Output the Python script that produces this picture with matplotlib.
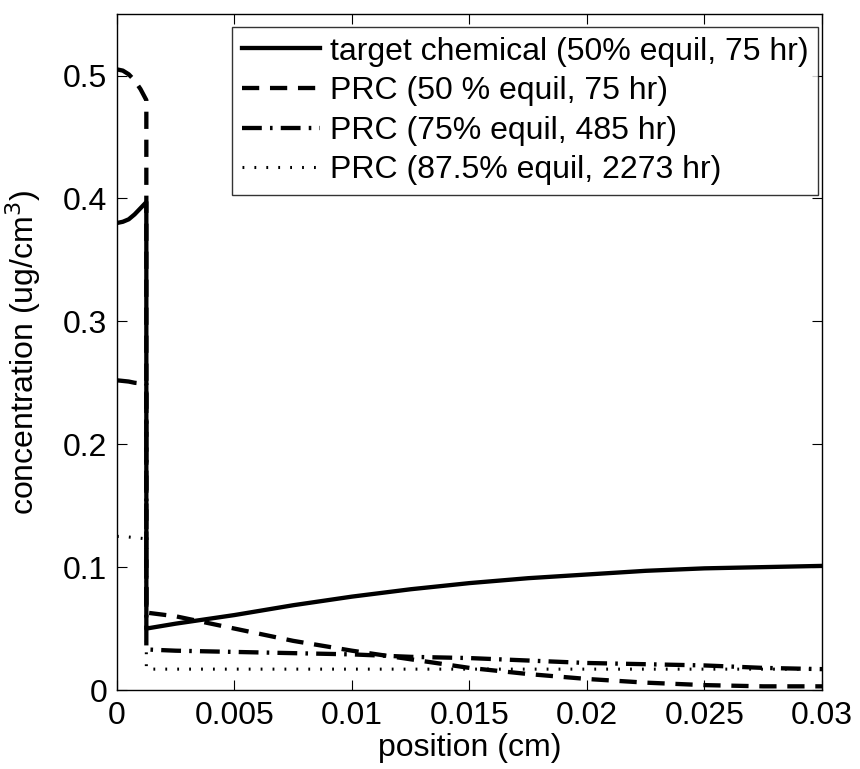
"""
    Concentration profiles across membrane / water boundary
"""

import numpy as np
import matplotlib
matplotlib.use('Agg')
import matplotlib.pyplot as plt

plt.rcParams['font.family'] = ['Liberation Sans', 'DejaVu Sans']

# positions (cm): inside the polymer layer, then out in the water film
pos_inner = [0, 0.00025, 0.0005, 0.00075, 0.001, 0.00125]
pos_outer = [0.00125, 0.0025, 0.005, 0.0075, 0.01, 0.0125, 0.015,
             0.0175, 0.02, 0.0225, 0.025, 0.0275, 0.03]

# concentrations (ug/cm3)
target_inner = [0.380, 0.381, 0.383, 0.387, 0.392, 0.397]
target_outer = [0.050, 0.054, 0.061, 0.069, 0.076, 0.082, 0.087,
                0.091, 0.094, 0.097, 0.099, 0.100, 0.101]

prc50_inner = [0.505, 0.504, 0.501, 0.496, 0.489, 0.480]
prc50_outer = [0.063, 0.060, 0.050, 0.040, 0.032, 0.025, 0.018,
               0.013, 0.009, 0.006, 0.004, 0.003, 0.003]

prc75_inner = [0.252, 0.2515, 0.251, 0.250, 0.2495, 0.249]
prc75_outer = [0.033, 0.032, 0.031, 0.030, 0.029, 0.027, 0.026,
               0.024, 0.022, 0.021, 0.020, 0.018, 0.017]

prc875_inner = [0.125, 0.125, 0.1245, 0.124, 0.1235, 0.123]
prc875_outer = [0.017, 0.017, 0.017, 0.017, 0.017, 0.017, 0.017,
                0.017, 0.017, 0.017, 0.017, 0.017, 0.017]

labels = ['target chemical (50% equil, 75 hr)',
          'PRC (50 % equil, 75 hr)',
          'PRC (75% equil, 485 hr)',
          'PRC (87.5% equil, 2273 hr)']

x = np.concatenate([pos_inner, pos_outer])

fig = plt.figure(figsize=(8.6, 7.69), dpi=100)
ax = fig.add_axes([0.136, 0.1027, 0.8198, 0.879])

lw = 3.1
ax.plot(x, np.concatenate([target_inner, target_outer]), color='black',
        lw=lw, linestyle='-', label=labels[0])
ax.plot(x, np.concatenate([prc50_inner, prc50_outer]), color='black',
        lw=lw, linestyle=(0, (4.0, 2.5)), label=labels[1])
ax.plot(x, np.concatenate([prc75_inner, prc75_outer]), color='black',
        lw=lw, linestyle=(0, (4.6, 1.9, 0.6, 1.9)), label=labels[2])
ax.plot(x, np.concatenate([prc875_inner, prc875_outer]), color='black',
        lw=2.2, linestyle=(0, (0.6, 3.3)), label=labels[3])

ax.set_xlim(0, 0.03)
ax.set_ylim(0, 0.55)
ax.set_xticks([0, 0.005, 0.01, 0.015, 0.02, 0.025, 0.03])
ax.set_xticklabels(['0', '0.005', '0.01', '0.015', '0.02', '0.025', '0.03'])
ax.set_yticks([0, 0.1, 0.2, 0.3, 0.4, 0.5])
ax.set_yticklabels(['0', '0.1', '0.2', '0.3', '0.4', '0.5'])
ax.tick_params(direction='in', top=True, right=True, length=7,
               labelsize=23, width=0.8)
ax.tick_params(axis='x', pad=8)
ax.tick_params(axis='y', pad=7)
for s in ax.spines.values():
    s.set_linewidth(1.0)

ax.set_xlabel('position (cm)', fontsize=23, labelpad=1)
ax.set_ylabel('concentration (ug/cm$^3$)', fontsize=23, labelpad=14)

leg = ax.legend(loc='upper right', bbox_to_anchor=(0.9943, 0.9808),
                fontsize=23, frameon=True, fancybox=False,
                handlelength=2.45, handletextpad=0.3, borderpad=0.3,
                labelspacing=0.3, borderaxespad=0)
leg.get_frame().set_edgecolor('black')
leg.get_frame().set_linewidth(1.0)

fig.savefig('out.png', dpi=100)
